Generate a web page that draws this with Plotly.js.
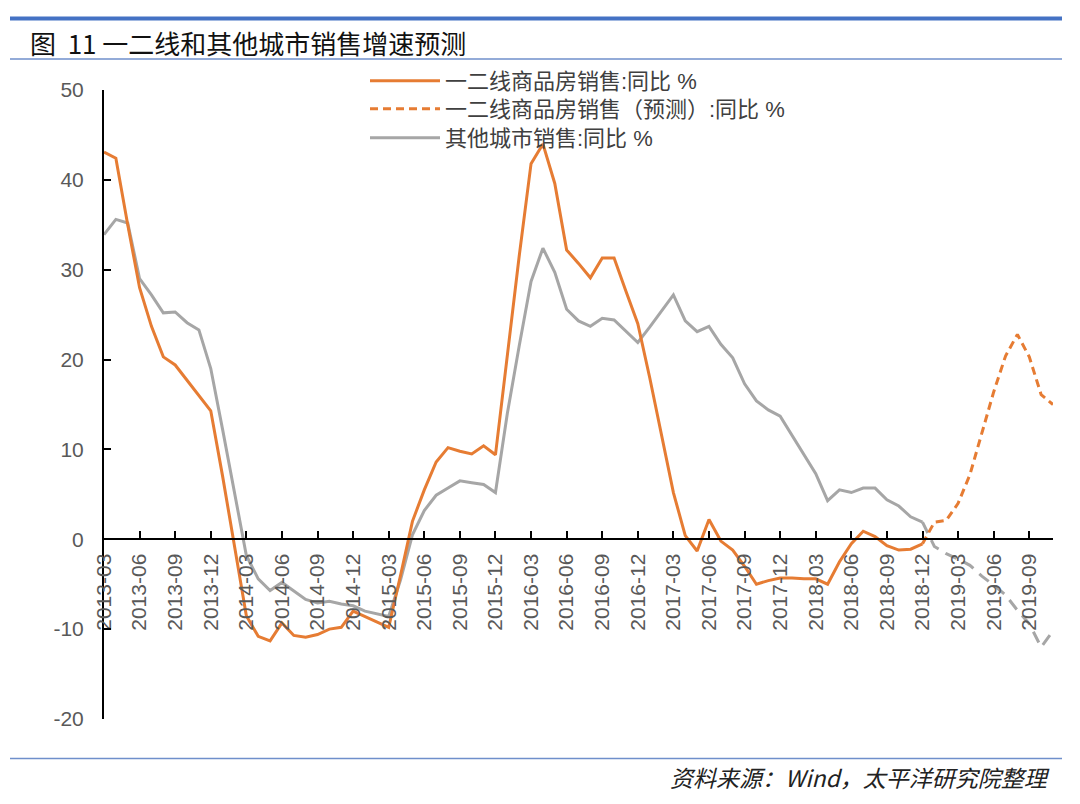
<!DOCTYPE html>
<html>
<head>
<meta charset="utf-8">
<script src="https://cdn.plot.ly/plotly-3.0.1.min.js"></script>
<style>
  body { margin: 0; background: #fff; }
  #chart { width: 1080px; height: 804px; }
</style>
</head>
<body>
<div id="chart"></div>
<script>
// monthly categories, 2013-03 .. 2019-11
const months = [];
for (let y = 2013, m = 3; months.length < 81; m++) {
  if (m > 12) { m = 1; y++; }
  months.push(y + "-" + String(m).padStart(2, "0"));
}
const tickMonths = months.filter((_, i) => i % 3 === 0);

const yTickVals = [-20, -10, 0, 10, 20, 30, 40, 50];
const yTickText = ["-20", "-10", "0", "10", "20", "30", "40", "50"];

// 一二线商品房销售:同比 % (2013-03 .. 2018-12)
const tierActual = [
  43.1, 42.4, 35.0, 28.0, 23.7, 20.3, 19.4, 17.7, 16.0, 14.3,
  7.0, -1.0, -8.5, -10.8, -11.3, -9.3, -10.7, -10.9, -10.6, -10.0,
  -9.8, -8.0, -8.6, -9.2, -9.8, -4.0, 2.0, 5.5, 8.6, 10.2,
  9.8, 9.5, 10.4, 9.4, 20.5, 31.5, 41.8, 44.0, 39.6, 32.2,
  30.7, 29.1, 31.3, 31.3, 27.6, 24.0, 18.0, 11.5, 5.2, 0.4,
  -1.3, 2.2, -0.2, -1.2, -3.0, -5.0, -4.6, -4.3, -4.3, -4.4,
  -4.4, -5.0, -2.5, -0.5, 0.9, 0.3, -0.7, -1.2, -1.1, -0.5
];
// 一二线商品房销售（预测）:同比 % (2018-12 .. 2019-11)
const tierForecast = [-0.5, 1.9, 2.1, 4.0, 7.2, 11.8, 16.4, 20.4, 22.8, 20.3, 16.1, 15.0];

// 其他城市销售:同比 % (2013-03 .. 2018-12)
const otherActual = [
  33.9, 35.6, 35.2, 29.0, 27.2, 25.2, 25.3, 24.1, 23.3, 19.0,
  12.2, 5.0, -1.8, -4.4, -5.7, -4.8, -5.8, -6.7, -7.1, -6.9,
  -7.2, -7.4, -8.0, -8.3, -8.6, -4.5, 0.5, 3.2, 4.9, 5.7,
  6.5, 6.3, 6.1, 5.2, 14.0, 21.5, 28.7, 32.4, 29.7, 25.6,
  24.3, 23.7, 24.6, 24.4, 23.1, 21.9, 23.6, 25.4, 27.2, 24.3,
  23.1, 23.7, 21.7, 20.2, 17.3, 15.4, 14.4, 13.7, 11.6, 9.5,
  7.3, 4.3, 5.5, 5.2, 5.7, 5.7, 4.4, 3.7, 2.5, 1.9
];
// 其他城市销售 forecast (not in legend)
const otherForecast = [1.9, -0.8, -1.6, -2.2, -2.9, -4.1, -5.1, -6.2, -7.9, -9.4, -12.0, -10.2];

const ORANGE = "#E67C33";
const GREY = "#A6A6A6";

// plot area in pixels: left 104, right 1053, top 90, bottom 719
const px = (x) => (x - 104) / 949;
const py = (y) => (719 - y) / 629;

const traces = [
  {
    x: months.slice(0, 70), y: otherActual,
    type: "scatter", mode: "lines", name: "其他城市销售:同比 %",
    line: { color: GREY, width: 3 }, legend: "legend3"
  },
  {
    x: months.slice(69), y: otherForecast,
    type: "scatter", mode: "lines", showlegend: false,
    line: { color: GREY, width: 3, dash: "12px,8px" }
  },
  {
    x: months.slice(0, 70), y: tierActual,
    type: "scatter", mode: "lines", name: "一二线商品房销售:同比 %",
    line: { color: ORANGE, width: 3 }, legend: "legend"
  },
  {
    x: months.slice(69), y: tierForecast,
    type: "scatter", mode: "lines", name: "一二线商品房销售（预测）:同比 %",
    line: { color: ORANGE, width: 3, dash: "8px,5px" }, legend: "legend2"
  }
];

const legendFont = { size: 22, color: "#404040", family: "Liberation Sans, Noto Sans CJK SC, sans-serif" };
const legendAt = (rowY) => ({
  x: px(365), y: py(rowY), xanchor: "left", yanchor: "middle",
  bgcolor: "rgba(0,0,0,0)", itemwidth: 70, font: legendFont
});

const layout = {
  width: 1080,
  height: 804,
  margin: { l: 104, r: 27, t: 90, b: 85 },
  paper_bgcolor: "#fff",
  plot_bgcolor: "#fff",
  font: { family: "Liberation Sans, Noto Sans CJK SC, sans-serif" },
  showlegend: true,
  legend: legendAt(81),
  legend2: legendAt(109),
  legend3: legendAt(138),
  xaxis: {
    type: "category",
    range: [0, 80],
    anchor: "free",
    position: 20 / 70,
    showline: true, linecolor: "#000", linewidth: 2,
    ticks: "inside", ticklen: 7, tickwidth: 2, tickcolor: "#000",
    tickvals: tickMonths,
    tickangle: -90,
    ticklabelstandoff: 5,
    tickfont: { size: 21, color: "#595959" },
    showgrid: false, zeroline: false, fixedrange: true
  },
  yaxis: {
    range: [-20, 50],
    tickvals: yTickVals, ticktext: yTickText,
    showline: true, linecolor: "#000", linewidth: 2,
    ticks: "inside", ticklen: 7, tickwidth: 2, tickcolor: "#000",
    ticklabelstandoff: 14,
    tickfont: { size: 21, color: "#595959" },
    showgrid: false, zeroline: false, fixedrange: true
  },
  shapes: [
    { type: "line", xref: "paper", yref: "paper", x0: px(10), x1: px(1062), y0: py(18.5), y1: py(18.5),
      line: { color: "#4472C4", width: 4 } },
    { type: "line", xref: "paper", yref: "paper", x0: px(10), x1: px(1062), y0: py(59), y1: py(59),
      line: { color: "#6F8FCB", width: 1.5 } },
    { type: "line", xref: "paper", yref: "paper", x0: px(10), x1: px(1062), y0: py(758.5), y1: py(758.5),
      line: { color: "#6F8FCB", width: 1.5 } }
  ],
  annotations: [
    { text: "图&nbsp;&nbsp;11&nbsp;一二线和其他城市销售增速预测", xref: "paper", yref: "paper",
      x: px(28), y: py(43), xanchor: "left", yanchor: "middle", showarrow: false,
      font: { size: 26, color: "#111", family: "Noto Sans CJK SC, sans-serif" } },
    { text: "<i>资料来源：Wind，太平洋研究院整理</i>", xref: "paper", yref: "paper",
      x: px(1052), y: py(777), xanchor: "right", yanchor: "middle", showarrow: false,
      font: { size: 23, color: "#222", family: "Noto Sans CJK SC, sans-serif" } }
  ]
};

Plotly.newPlot("chart", traces, layout, { displayModeBar: false, staticPlot: true });
</script>
</body>
</html>
